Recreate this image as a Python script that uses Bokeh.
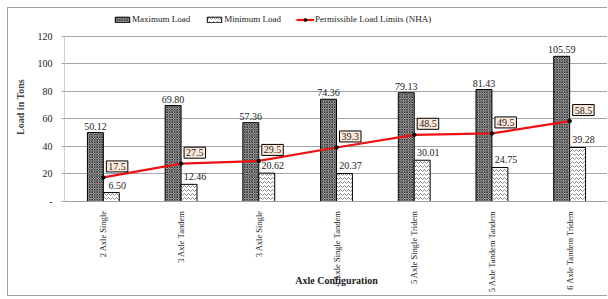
from bokeh.plotting import figure
from bokeh.models import (ColumnDataSource, FactorRange, Range1d, FixedTicker,
                          Legend, LegendItem)
from bokeh.transform import dodge
from bokeh.core.properties import value
from bokeh.embed import file_html
from bokeh.resources import INLINE

categories = ["2 Axle Single", "3 Axle Tandem", "3 Axle Single",
              "4 Axle Single Tandem", "5 Axle Single Tridem",
              "5 Axle Tandem Tandem", "6 Axle Tandem Tridem"]
max_load = [50.12, 69.80, 57.36, 74.36, 79.13, 81.43, 105.59]
min_load = [6.50, 12.46, 20.62, 20.37, 30.01, 24.75, 39.28]
permissible = [17.5, 27.5, 29.5, 39.3, 48.5, 49.5, 58.5]
y_ticks = [0, 20, 40, 60, 80, 100, 120]

FONT = value("Liberation Serif")

src = ColumnDataSource(dict(
    cat=categories,
    mx=max_load,
    mn=min_load,
    perm=permissible,
    mx_lbl=["%.2f" % v for v in max_load],
    mn_lbl=["%.2f" % v for v in min_load],
    perm_lbl=["%.1f" % v for v in permissible],
))

# headroom above the 120 gridline so the legend sits inside the frame
Y_TOP = 137.45

p = figure(x_range=FactorRange(*categories, range_padding=0),
           y_range=Range1d(0, Y_TOP),
           width=600, height=289, output_backend="svg", toolbar_location=None,
           min_border_left=56, min_border_right=0, min_border_top=4,
           min_border_bottom=96)
p.styles = {"margin-left": "7px", "margin-top": "7px",
            "border-left": "1px solid #a0a0a0", "border-top": "1px solid #a0a0a0",
            "border-bottom": "1px solid #a0a0a0"}
p.outline_line_color = None
p.background_fill_color = "white"

# y-axis line drawn only from 0 to 120
axis_src = ColumnDataSource(dict(cat=[categories[0]], y0=[y_ticks[0]], y1=[y_ticks[-1]]))
p.segment(x0=dodge("cat", -0.5, range=p.x_range), y0="y0",
          x1=dodge("cat", -0.5, range=p.x_range), y1="y1",
          source=axis_src, line_color="#a0a0a0", line_width=1)

bw = 0.205
r_max = p.vbar(x=dodge("cat", -bw / 2, range=p.x_range), top="mx", width=bw,
               source=src, fill_color="#b0b0b0", line_color="black", line_width=1,
               hatch_pattern="x", hatch_color="#111111", hatch_scale=2.5, hatch_weight=0.7)
r_min = p.vbar(x=dodge("cat", bw / 2, range=p.x_range), top="mn", width=bw,
               source=src, fill_color="white", line_color="black", line_width=1,
               hatch_pattern="v", hatch_color="#888888", hatch_scale=4, hatch_weight=1)

r_line = p.line(x="cat", y="perm", source=src, line_color="#ee1111", line_width=2.2)
r_pts = p.scatter(x="cat", y="perm", source=src, marker="circle", size=3.5,
                  fill_color="black", line_color="black")

p.text(x=dodge("cat", -bw / 2, range=p.x_range), y="mx", text="mx_lbl", source=src,
       text_font=FONT, text_font_size="10px", text_color="#222222",
       text_align="center", text_baseline="bottom", y_offset=-3)
p.text(x=dodge("cat", bw / 2, range=p.x_range), y="mn", text="mn_lbl", source=src,
       text_font=FONT, text_font_size="10px", text_color="#222222",
       text_align="center", text_baseline="bottom", x_offset=6, y_offset=-4)
p.text(x="cat", y="perm", text="perm_lbl", source=src,
       text_font=FONT, text_font_size="10px", text_color="#222222",
       text_align="left", text_baseline="middle", x_offset=3, y_offset=-11,
       background_fill_color="#fde9d9", border_line_color="black",
       border_line_width=1, padding=2)

# axes
p.yaxis.ticker = FixedTicker(ticks=y_ticks)
p.yaxis.major_label_overrides = {0: "-"}
p.yaxis.axis_label = "Load in Tons"
p.yaxis.axis_label_text_font = "Liberation Serif"
p.yaxis.axis_label_text_font_style = "bold"
p.yaxis.axis_label_text_font_size = "10px"
p.yaxis.axis_label_standoff = 9
p.yaxis.major_label_text_font = "Liberation Serif"
p.yaxis.major_label_text_font_size = "10px"
p.yaxis.major_label_text_color = "#222222"
p.yaxis.major_label_standoff = 9
p.yaxis.major_tick_out = 3
p.yaxis.major_tick_in = 0
p.yaxis.minor_tick_out = 0
p.yaxis.minor_tick_in = 0
p.yaxis.axis_line_color = None
p.yaxis.major_tick_line_color = "#a0a0a0"

p.xaxis.axis_label = "Axle Configuration"
p.xaxis.axis_label_text_font = "Liberation Serif"
p.xaxis.axis_label_text_font_style = "bold"
p.xaxis.axis_label_text_font_size = "10px"
p.xaxis.axis_label_text_color = "#222222"
p.xaxis.axis_label_standoff = -20
p.xaxis.major_label_orientation = 1.5708
p.xaxis.major_label_text_font = "Liberation Serif"
p.xaxis.major_label_text_font_size = "8.5px"
p.xaxis.major_label_text_color = "#222222"
p.xaxis.major_label_standoff = 3
p.xaxis.major_tick_line_color = None
p.xaxis.axis_line_color = "#a0a0a0"

p.xgrid.grid_line_color = None
p.ygrid.grid_line_color = "#a6a6a6"
p.ygrid.grid_line_width = 1

legend = Legend(items=[
    LegendItem(label="Maximum Load", renderers=[r_max]),
    LegendItem(label="Minimum Load", renderers=[r_min]),
    LegendItem(label="Permissible Load Limits (NHA)", renderers=[r_line, r_pts]),
], orientation="horizontal", location=(49, 177), padding=0, margin=0,
   spacing=15, label_standoff=1, glyph_width=18, glyph_height=7,
   label_height=10, label_text_font="Liberation Serif", label_text_font_size="9px",
   label_text_color="#222222", border_line_color=None, background_fill_alpha=0)
p.add_layout(legend)

open("out.html", "w").write(file_html(p, INLINE))
